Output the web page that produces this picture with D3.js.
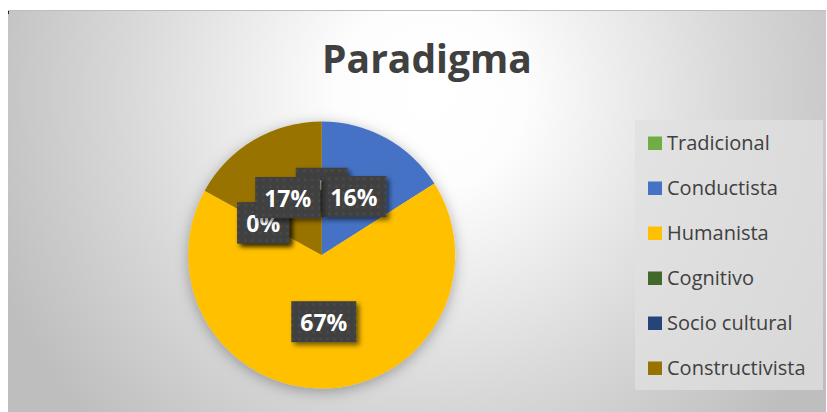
<!DOCTYPE html>
<html>
<head>
<meta charset="utf-8">
<script src="https://cdn.jsdelivr.net/npm/d3@7"></script>
<style>
  body { margin: 0; background: #fff; }
  svg { display: block; font-family: "Open Sans", sans-serif; }
</style>
</head>
<body>
<svg width="827" height="412"></svg>
<script>
// data
var categories = ["Tradicional", "Conductista", "Humanista", "Cognitivo", "Socio cultural", "Constructivista"];
var values = [0, 16, 67, 0, 0, 17];
var colors = ["#70AD47", "#4472C4", "#FFC000", "#43682B", "#264478", "#997300"];
var title = "Paradigma";

var data = categories.map(function(c, i) { return { name: c, value: values[i] }; });
var total = d3.sum(values);

var svg = d3.select("svg"),
    width = +svg.attr("width"),
    height = +svg.attr("height"),
    cx = 321.7, cy = 255, radius = 133.5;

var defs = svg.append("defs");

// background radial gradient
var grad = defs.append("radialGradient")
    .attr("id", "bg")
    .attr("gradientUnits", "userSpaceOnUse")
    .attr("cx", 430).attr("cy", 95).attr("r", 470);
grad.append("stop").attr("offset", "0").attr("stop-color", "#ffffff");
grad.append("stop").attr("offset", "0.2").attr("stop-color", "#fdfdfd");
grad.append("stop").attr("offset", "0.65").attr("stop-color", "#d8d8d8");
grad.append("stop").attr("offset", "0.92").attr("stop-color", "#c4c4c4");
grad.append("stop").attr("offset", "1").attr("stop-color", "#bebebe");

// dotted pattern for the label boxes
var pat = defs.append("pattern")
    .attr("id", "dots")
    .attr("patternUnits", "userSpaceOnUse")
    .attr("width", 7).attr("height", 7);
pat.append("rect").attr("width", 7).attr("height", 7).attr("fill", "#3f3f3f");
pat.append("circle").attr("cx", 3.5).attr("cy", 3.5).attr("r", 1.4).attr("fill", "#4b4b4b");

var pieShadow = defs.append("filter").attr("id", "pieShadow")
    .attr("x", "-20%").attr("y", "-20%").attr("width", "140%").attr("height", "140%");
pieShadow.append("feDropShadow")
    .attr("dx", 0).attr("dy", 3).attr("stdDeviation", 7)
    .attr("flood-color", "#000").attr("flood-opacity", 0.3);

var boxShadow = defs.append("filter").attr("id", "boxShadow")
    .attr("x", "-20%").attr("y", "-20%").attr("width", "150%").attr("height", "160%");
boxShadow.append("feDropShadow")
    .attr("dx", 3).attr("dy", 3).attr("stdDeviation", 2.5)
    .attr("flood-color", "#000").attr("flood-opacity", 0.55);

// chart area
svg.append("rect")
    .attr("x", 8).attr("y", 10)
    .attr("width", width - 9).attr("height", height - 9)
    .attr("fill", "url(#bg)");
svg.append("line")
    .attr("x1", 8).attr("x2", width - 1)
    .attr("y1", 10.5).attr("y2", 10.5)
    .attr("stroke", "#bdbdbd");
svg.append("rect")
    .attr("x", 8).attr("y", 11).attr("width", 1).attr("height", 3)
    .attr("fill", "#222");

// title
svg.append("text")
    .attr("x", 427).attr("y", 73)
    .attr("text-anchor", "middle")
    .attr("font-size", 39)
    .attr("font-weight", "bold")
    .attr("fill", "#404040")
    .text(title);

// pie
var pie = d3.pie().sort(null).value(function(d) { return d.value; });
var arc = d3.arc().innerRadius(0).outerRadius(radius);
var arcs = pie(data);

var g = svg.append("g").attr("transform", "translate(" + cx + "," + cy + ")");

g.append("g")
    .attr("filter", "url(#pieShadow)")
    .selectAll("path")
    .data(arcs)
    .enter().append("path")
    .attr("d", arc)
    .attr("fill", function(d, i) { return colors[i]; });

// data labels (they overlap in the original too)
var fmt = d3.format(".0%");
var label = g.append("g")
    .selectAll("g")
    .data(arcs)
    .enter().append("g")
    .attr("transform", function(d) { return "translate(" + arc.centroid(d) + ")"; });

label.each(function(d) {
  var sel = d3.select(this);
  var box = sel.append("rect").attr("filter", "url(#boxShadow)");
  var t = sel.append("text")
      .attr("text-anchor", "middle")
      .attr("y", 9)
      .attr("font-size", 23)
      .attr("font-weight", "bold")
      .attr("fill", "#ffffff")
      .text(fmt(d.data.value / total));
  var w = t.node().getComputedTextLength() + 18, h = 41;
  box.attr("x", -w / 2).attr("y", -h / 2)
     .attr("width", w).attr("height", h)
     .attr("fill", "url(#dots)");
});

// legend
var ly = d3.scalePoint().domain(categories).range([143, 368]);

svg.append("rect")
    .attr("x", 635).attr("y", 120)
    .attr("width", 188).attr("height", 270)
    .attr("fill", "#e0e0e0")
    .attr("fill-opacity", 0.75);

var legend = svg.append("g")
    .selectAll("g")
    .data(categories)
    .enter().append("g")
    .attr("transform", function(d) { return "translate(648," + ly(d) + ")"; });

legend.append("rect")
    .attr("x", 0).attr("y", -6.5)
    .attr("width", 14).attr("height", 13.5)
    .attr("fill", function(d, i) { return colors[i]; });

legend.append("text")
    .attr("x", 19).attr("y", 7)
    .attr("font-size", 20)
    .attr("fill", "#404040")
    .text(function(d) { return d; });
</script>
</body>
</html>
